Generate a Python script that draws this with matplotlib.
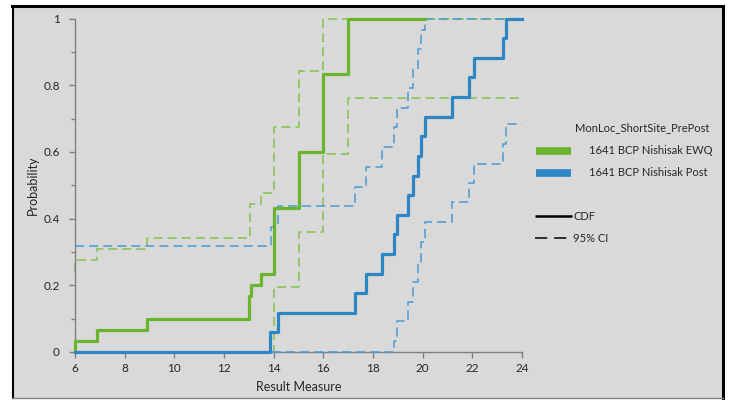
import matplotlib
matplotlib.use("Agg")
import matplotlib.pyplot as plt
from matplotlib.lines import Line2D
from matplotlib.patches import Rectangle

plt.rcParams['font.family'] = ['Lato', 'DejaVu Sans']

# ---- data ----
ewq_cdf_x = [6, 6, 6.9, 8.9, 13.0, 13.07, 13.5, 14.0, 15.0, 16.0, 17.0, 20.1]
ewq_cdf_y = [0, 0.033, 0.067, 0.1, 0.167, 0.2, 0.233, 0.433, 0.6, 0.833, 1.0, 1.0]
ewq_hi_x = [6, 6, 6.9, 8.9, 13.03, 13.5, 14.0, 15.0, 16.0, 24]
ewq_hi_y = [0.24, 0.276, 0.31, 0.343, 0.444, 0.478, 0.676, 0.843, 1.0, 1.0]
ewq_lo_x = [6, 14.0, 15.0, 16.0, 17.0, 24]
ewq_lo_y = [0, 0.194, 0.359, 0.594, 0.761, 0.761]

post_cdf_x = [6, 13.86, 14.16, 17.26, 17.73, 18.36, 18.83, 18.97, 19.41, 19.61,
              19.8, 19.94, 20.09, 21.18, 21.88, 22.06, 23.22, 23.37, 24]
post_cdf_y = [0, 0.059, 0.118, 0.176, 0.235, 0.294, 0.353, 0.412, 0.471, 0.529,
              0.588, 0.647, 0.706, 0.765, 0.824, 0.882, 0.941, 1.0, 1.0]
post_hi_x = [6, 13.88, 14.16, 17.26, 17.73, 18.36, 18.83, 18.97, 19.41, 19.61,
             19.8, 19.94, 20.09, 24]
post_hi_y = [0.318, 0.376, 0.438, 0.496, 0.556, 0.614, 0.674, 0.731, 0.791, 0.848,
             0.908, 0.967, 1.0, 1.0]
post_lo_x = [6, 18.83, 18.97, 19.41, 19.61, 19.8, 19.94, 20.09, 21.18, 21.88,
             22.06, 23.22, 23.37, 24]
post_lo_y = [0, 0.034, 0.094, 0.151, 0.211, 0.271, 0.329, 0.391, 0.449, 0.506,
             0.564, 0.624, 0.684, 0.684]

x_ticks = [6, 8, 10, 12, 14, 16, 18, 20, 22, 24]
y_ticks = [0, 0.2, 0.4, 0.6, 0.8, 1]
y_tick_labels = ['0', '0.2', '0.4', '0.6', '0.8', '1']

series_names = ['1641 BCP Nishisak EWQ', '1641 BCP Nishisak Post']
legend_title = 'MonLoc_ShortSite_PrePost'

# ---- style ----
green = '#6AB42E'
green_d = '#86C04E'
blue = '#2E86C4'
blue_d = '#4A9AD3'
bg = '#D9D9D9'
txt = '#262626'

W, H = 729, 400
fig = plt.figure(figsize=(W / 100, H / 100), dpi=100, facecolor='white')

# background panel with frame
fig.add_artist(Rectangle((12 / W, 2 / H), 711 / W, 393 / H, transform=fig.transFigure,
                         facecolor=bg, edgecolor='none', zorder=0))
fig.add_artist(Line2D([12 / W, 723 / W], [1 - 5.5 / H, 1 - 5.5 / H], transform=fig.transFigure,
                      color='black', lw=2.2))
fig.add_artist(Line2D([12.5 / W, 12.5 / W], [2 / H, 1 - 5.5 / H], transform=fig.transFigure,
                      color='black', lw=1.5))
fig.add_artist(Line2D([722.5 / W, 722.5 / W], [2 / H, 1 - 5.5 / H], transform=fig.transFigure,
                      color='black', lw=2.2))
fig.add_artist(Line2D([12 / W, 723 / W], [2 / H, 2 / H], transform=fig.transFigure,
                      color='#808080', lw=1.0))

ax = fig.add_axes([75 / W, 1 - 352 / H, (522 - 75) / W, (352 - 18.5) / H])
ax.set_facecolor('none')

dash = (0, (6, 3.2))
kw_d = dict(where='post', lw=1.1, linestyle=dash, clip_on=False)
ax.step(ewq_hi_x, ewq_hi_y, color=green_d, zorder=2, **kw_d)
ax.step(ewq_lo_x, ewq_lo_y, color=green_d, zorder=2, **kw_d)
ax.step(post_hi_x, post_hi_y, color=blue_d, zorder=3, **kw_d)
ax.step(post_lo_x, post_lo_y, color=blue_d, zorder=3, **kw_d)
ax.step(ewq_cdf_x, ewq_cdf_y, where='post', color=green, lw=2.3, zorder=4, clip_on=False)
ax.step(post_cdf_x, post_cdf_y, where='post', color=blue, lw=2.3, zorder=5, clip_on=False)

ax.set_xlim(6, 24)
ax.set_ylim(0, 1)
ax.set_xticks(x_ticks)
ax.set_yticks(y_ticks)
ax.set_yticklabels(y_tick_labels)
ax.set_yticks([0.1, 0.3, 0.5, 0.7, 0.9], minor=True)
for s in ['top', 'right']:
    ax.spines[s].set_visible(False)
for s in ['left', 'bottom']:
    ax.spines[s].set_color('#7F7F7F')
    ax.spines[s].set_linewidth(1.0)
ax.tick_params(axis='both', which='both', color='#7F7F7F', labelsize=8.5, labelcolor=txt)
ax.tick_params(axis='both', which='major', length=4, width=1)
ax.tick_params(axis='y', which='minor', length=3, width=1)
ax.tick_params(axis='x', pad=4)
ax.tick_params(axis='y', pad=7)
ax.set_xlabel('Result Measure', fontsize=9, color=txt, labelpad=5)
ax.set_ylabel('Probability', fontsize=9, color=txt, labelpad=3)

# legend (manual)
def fx(p):
    return p / W

def fy(p):
    return 1 - p / H

fs = 8
fig.text(fx(575), fy(128), legend_title, fontsize=fs, color=txt, va='center', ha='left')
fig.add_artist(Line2D([fx(536), fx(571)], [fy(151), fy(151)], transform=fig.transFigure,
                      color=green, lw=5.5, solid_capstyle='butt'))
fig.text(fx(589), fy(151), series_names[0], fontsize=fs, color=txt, va='center', ha='left')
fig.add_artist(Line2D([fx(536), fx(571)], [fy(173), fy(173)], transform=fig.transFigure,
                      color=blue, lw=5.5, solid_capstyle='butt'))
fig.text(fx(589), fy(173), series_names[1], fontsize=fs, color=txt, va='center', ha='left')

fig.add_artist(Line2D([fx(535), fx(572)], [fy(216), fy(216)], transform=fig.transFigure,
                      color='black', lw=1.8, solid_capstyle='butt'))
fig.text(fx(573), fy(216), 'CDF', fontsize=8, color=txt, va='center', ha='left')
fig.add_artist(Line2D([fx(535), fx(572)], [fy(238), fy(238)], transform=fig.transFigure,
                      color='black', lw=1.1, linestyle=(0, (8, 4.5))))
fig.text(fx(573), fy(238), '95% CI', fontsize=8, color=txt, va='center', ha='left')

fig.savefig('out.png', dpi=100, facecolor='white')
